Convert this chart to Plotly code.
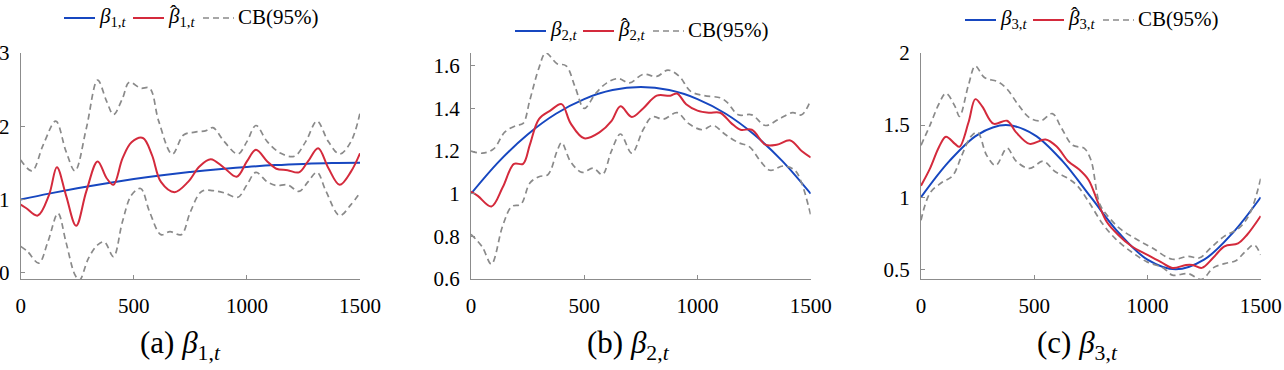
import plotly.graph_objects as go

# ---------------- data ----------------
# Panel (a): beta_1
t1_true = [0, 125, 250, 375, 500, 625, 750, 875, 1000, 1125, 1250, 1375, 1500]
b1_true = [1.0, 1.08, 1.153, 1.219, 1.278, 1.33, 1.375, 1.413, 1.444, 1.469, 1.486, 1.497, 1.5]

t1_est = [0, 25, 75, 125, 160, 200, 245, 290, 340, 380, 410, 450, 490, 540, 580, 620, 680, 740,
          790, 840, 900, 955, 1000, 1040, 1090, 1130, 1180, 1230, 1270, 1315, 1360, 1410, 1460, 1500]
b1_est = [0.93, 0.88, 0.78, 1.06, 1.44, 1.06, 0.64, 1.11, 1.52, 1.29, 1.20, 1.56, 1.78, 1.84, 1.61,
          1.24, 1.10, 1.24, 1.45, 1.55, 1.43, 1.31, 1.52, 1.68, 1.52, 1.42, 1.40, 1.37, 1.52, 1.70,
          1.43, 1.20, 1.38, 1.63]

t1_up = [0, 50, 100, 155, 200, 240, 290, 340, 380, 410, 450, 480, 530, 570, 610, 670, 720, 770,
         820, 850, 900, 960, 1000, 1040, 1090, 1150, 1210, 1260, 1310, 1360, 1410, 1460, 1500]
b1_up = [1.54, 1.39, 1.75, 2.07, 1.66, 1.39, 1.97, 2.63, 2.34, 2.16, 2.38, 2.60, 2.52, 2.52, 2.07,
         1.62, 1.88, 1.92, 1.94, 1.98, 1.79, 1.62, 1.79, 2.01, 1.79, 1.63, 1.59, 1.79, 2.07, 1.79,
         1.62, 1.79, 2.18]

t1_lo = [0, 30, 80, 120, 165, 200, 240, 260, 300, 340, 370, 410, 450, 490, 530, 570, 620, 660,
         710, 750, 800, 850, 900, 960, 1000, 1040, 1090, 1130, 1180, 1230, 1270, 1310, 1350, 1410,
         1460, 1500]
b1_lo = [0.36, 0.29, 0.13, 0.42, 0.81, 0.42, -0.03, -0.10, 0.20, 0.38, 0.42, 0.22, 0.70, 1.06,
         1.15, 0.83, 0.52, 0.56, 0.52, 0.83, 1.11, 1.12, 1.09, 1.03, 1.20, 1.37, 1.24, 1.19, 1.20,
         1.11, 1.24, 1.37, 1.11, 0.78, 0.93, 1.09]

# Panel (b): beta_2
t2_true = [0, 125, 250, 375, 500, 625, 750, 875, 1000, 1125, 1250, 1375, 1500]
b2_true = [1.0, 1.153, 1.278, 1.375, 1.444, 1.486, 1.5, 1.486, 1.444, 1.375, 1.278, 1.153, 1.0]

t2_est = [0, 30, 90, 140, 190, 230, 260, 300, 350, 400, 440, 500, 570, 620, 660, 710, 760, 820,
          880, 910, 950, 1000, 1050, 1100, 1150, 1190, 1240, 1300, 1350, 1410, 1460, 1500]
b2_est = [1.01, 0.99, 0.94, 1.03, 1.14, 1.14, 1.23, 1.35, 1.39, 1.42, 1.33, 1.26, 1.29, 1.34,
          1.41, 1.36, 1.40, 1.46, 1.46, 1.47, 1.42, 1.39, 1.38, 1.38, 1.33, 1.30, 1.30, 1.23,
          1.23, 1.25, 1.20, 1.17]

t2_up = [0, 50, 100, 150, 200, 230, 260, 300, 330, 380, 420, 460, 500, 550, 600, 650, 700, 760,
         820, 870, 920, 970, 1030, 1100, 1130, 1180, 1240, 1300, 1360, 1420, 1460, 1500]
b2_up = [1.20, 1.19, 1.21, 1.29, 1.32, 1.33, 1.44, 1.59, 1.66, 1.61, 1.60, 1.50, 1.40, 1.47, 1.52,
         1.54, 1.52, 1.56, 1.55, 1.58, 1.55, 1.48, 1.46, 1.45, 1.43, 1.37, 1.37, 1.32, 1.35, 1.38,
         1.37, 1.44]

t2_lo = [0, 50, 90, 140, 180, 220, 260, 300, 340, 380, 400, 440, 490, 540, 580, 620, 660, 710,
         760, 800, 850, 910, 960, 1020, 1070, 1120, 1180, 1230, 1280, 1320, 1380, 1430, 1460, 1500]
b2_lo = [0.81, 0.75, 0.67, 0.85, 0.94, 0.95, 1.05, 1.08, 1.09, 1.20, 1.24, 1.15, 1.10, 1.12, 1.09,
         1.20, 1.28, 1.19, 1.30, 1.36, 1.35, 1.38, 1.33, 1.30, 1.32, 1.28, 1.24, 1.22, 1.15, 1.11,
         1.13, 1.11, 1.05, 0.90]

# Panel (c): beta_3
t3_true = [0, 125, 250, 375, 500, 625, 750, 875, 1000, 1125, 1250, 1375, 1500]
b3_true = [1.0, 1.25, 1.433, 1.5, 1.433, 1.25, 1.0, 0.75, 0.567, 0.5, 0.567, 0.75, 1.0]

t3_est = [0, 40, 80, 110, 150, 170, 210, 240, 270, 320, 380, 420, 480, 550, 600, 650, 700, 740,
          780, 820, 870, 930, 1000, 1060, 1110, 1170, 1200, 1240, 1290, 1340, 1400, 1440, 1500]
b3_est = [1.08, 1.20, 1.35, 1.42, 1.37, 1.35, 1.52, 1.68, 1.63, 1.51, 1.53, 1.45, 1.37, 1.40,
          1.35, 1.25, 1.19, 1.12, 0.97, 0.83, 0.74, 0.66, 0.60, 0.55, 0.51, 0.53, 0.53, 0.51,
          0.58, 0.66, 0.68, 0.74, 0.87]

t3_up = [0, 40, 80, 110, 150, 170, 210, 240, 280, 340, 380, 430, 480, 530, 580, 620, 670, 720,
         750, 790, 830, 880, 950, 1020, 1110, 1180, 1230, 1280, 1340, 1400, 1450, 1500]
b3_up = [1.36, 1.50, 1.65, 1.72, 1.63, 1.56, 1.78, 1.91, 1.83, 1.80, 1.75, 1.64, 1.55, 1.53, 1.58,
         1.48, 1.36, 1.34, 1.26, 0.95, 0.86, 0.78, 0.71, 0.65, 0.57, 0.59, 0.58, 0.65, 0.73, 0.78,
         0.88, 1.13]

t3_lo = [0, 40, 90, 140, 180, 220, 250, 290, 330, 380, 420, 480, 540, 590, 650, 690, 740, 800,
         860, 930, 1000, 1070, 1110, 1180, 1240, 1290, 1340, 1390, 1430, 1470, 1500]
b3_lo = [0.84, 1.03, 1.10, 1.15, 1.29, 1.42, 1.45, 1.29, 1.22, 1.34, 1.25, 1.20, 1.25, 1.18, 1.13,
         1.08, 0.97, 0.82, 0.71, 0.62, 0.55, 0.51, 0.46, 0.47, 0.43, 0.51, 0.54, 0.56, 0.62, 0.67,
         0.60]

x_ticks = [0, 500, 1000, 1500]
y_ticks = [[0, 1, 2, 3], [0.6, 0.8, 1.0, 1.2, 1.4, 1.6], [0.5, 1.0, 1.5, 2.0]]
y_tick_text = [["0", "1", "2", "3"], ["0.6", "0.8", "1", "1.2", "1.4", "1.6"], ["0.5", "1", "1.5", "2"]]
y_ranges = [[-0.086, 3.0], [0.6, 1.66], [0.433, 2.0]]
captions = ["(a) <i>β</i><sub>1,<i>t</i></sub>", "(b) <i>β</i><sub>2,<i>t</i></sub>",
            "(c) <i>β</i><sub>3,<i>t</i></sub>"]
legend_labels = [
    ["<i>β</i><sub>1,<i>t</i></sub>", "<i>β</i><sub>1,<i>t</i></sub>", "CB(95%)"],
    ["<i>β</i><sub>2,<i>t</i></sub>", "<i>β</i><sub>2,<i>t</i></sub>", "CB(95%)"],
    ["<i>β</i><sub>3,<i>t</i></sub>", "<i>β</i><sub>3,<i>t</i></sub>", "CB(95%)"],
]
HAT = "ˆ"   # circumflex accent placed over the estimated beta

# ---------------- styling ----------------
BLUE = "#1747c0"
RED = "#d42a3c"
GRAY = "#8a8a8a"
AXIS = "#8c8c8c"
SERIF = "Liberation Serif"

panels = [
    (t1_true, b1_true, t1_est, b1_est, t1_up, b1_up, t1_lo, b1_lo),
    (t2_true, b2_true, t2_est, b2_est, t2_up, b2_up, t2_lo, b2_lo),
    (t3_true, b3_true, t3_est, b3_est, t3_up, b3_up, t3_lo, b3_lo),
]

W, H = 1284, 370
x_dom = [(20.7, 360.0), (471.0, 810.7), (921.0, 1260.7)]
y_dom = [1 - 279.0 / H, 1 - 53.0 / H]
caption_x = [181, 628, 1077]
# legend layout: (line start x of each entry, y centre) in pixels
legend_lines = [([64, 133, 203], 18), ([515, 583, 653], 31), ([965, 1033, 1103], 20)]
legend_styles = [(BLUE, "solid", 2), (RED, "solid", 2), (GRAY, "6px,4px", 1.7)]

fig = go.Figure()
for i, (tt, bt, te, be, tu, bu, tl, bl) in enumerate(panels):
    k = i + 1
    xa = "x" if k == 1 else f"x{k}"
    ya = "y" if k == 1 else f"y{k}"
    fig.add_trace(go.Scatter(x=tt, y=bt, mode="lines", line=dict(color=BLUE, width=2, shape="spline"),
                             name=f"beta_{k},t", showlegend=False, xaxis=xa, yaxis=ya))
    fig.add_trace(go.Scatter(x=te, y=be, mode="lines",
                             line=dict(color=RED, width=2, shape="spline", smoothing=1.0),
                             name=f"beta_hat_{k},t", showlegend=False, xaxis=xa, yaxis=ya))
    fig.add_trace(go.Scatter(x=tu, y=bu, mode="lines",
                             line=dict(color=GRAY, width=1.7, dash="6px,4px", shape="spline"),
                             name="CB(95%)", showlegend=False, xaxis=xa, yaxis=ya))
    fig.add_trace(go.Scatter(x=tl, y=bl, mode="lines",
                             line=dict(color=GRAY, width=1.7, dash="6px,4px", shape="spline"),
                             name="CB(95%)", showlegend=False, xaxis=xa, yaxis=ya))

layout = dict(
    width=W, height=H, margin=dict(l=0, r=0, t=0, b=0, autoexpand=False),
    paper_bgcolor="white", plot_bgcolor="white", showlegend=False,
    font=dict(family=SERIF, size=20, color="black"),
)
for i in range(3):
    k = i + 1
    xk = "xaxis" if k == 1 else f"xaxis{k}"
    yk = "yaxis" if k == 1 else f"yaxis{k}"
    x0, x1 = x_dom[i]
    layout[xk] = dict(domain=[x0 / W, x1 / W], range=[0, 1500], tickvals=x_ticks,
                      anchor="y" if k == 1 else f"y{k}", automargin=False,
                      showline=True, linecolor=AXIS, linewidth=1, ticks="inside", ticklen=4,
                      tickcolor=AXIS, showgrid=False, zeroline=False, ticklabelstandoff=8,
                      tickfont=dict(family=SERIF, size=21, color="black"))
    layout[yk] = dict(domain=y_dom, range=y_ranges[i], tickvals=y_ticks[i], ticktext=y_tick_text[i],
                      anchor="x" if k == 1 else f"x{k}", automargin=False,
                      showline=True, linecolor=AXIS, linewidth=1, ticks="inside", ticklen=4,
                      tickcolor=AXIS, showgrid=False, zeroline=False, ticklabelstandoff=6,
                      tickfont=dict(family=SERIF, size=21, color="black"))
fig.update_layout(**layout)

# manual legends (line sample + label) above each panel
for i in range(3):
    starts, ly = legend_lines[i]
    for j in range(3):
        color, dash, width = legend_styles[j]
        sx = starts[j]
        fig.add_shape(type="line", xref="paper", yref="paper",
                      x0=sx / W, x1=(sx + 31) / W, y0=1 - ly / H, y1=1 - ly / H,
                      line=dict(color=color, width=width, dash=dash))
        fig.add_annotation(text=legend_labels[i][j], xref="paper", yref="paper",
                           x=(sx + 33) / W, y=1 - (ly - 1) / H, xanchor="left", yanchor="middle",
                           showarrow=False, font=dict(family=SERIF, size=21, color="black"))
        if j == 1:
            fig.add_annotation(text=HAT, xref="paper", yref="paper",
                               x=(sx + 41) / W, y=1 - (ly - 5) / H, xanchor="center",
                               yanchor="middle", showarrow=False,
                               font=dict(family=SERIF, size=21, color="black"))

for i in range(3):
    fig.add_annotation(text=captions[i], xref="paper", yref="paper", x=caption_x[i] / W,
                       y=1 - 345 / H, xanchor="center", yanchor="middle", showarrow=False,
                       font=dict(family=SERIF, size=31, color="black"))

fig.write_html("out.html")
